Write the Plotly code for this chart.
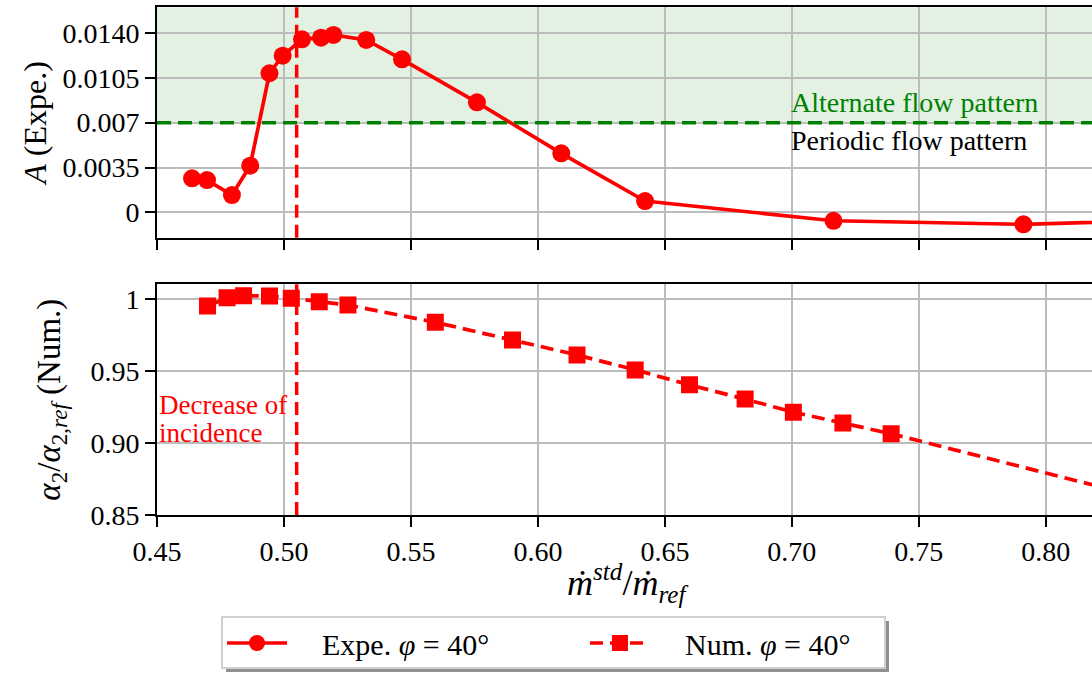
import plotly.graph_objects as go

# ---------------- data ----------------
expe_x = [0.4638, 0.4697, 0.4795, 0.4867, 0.4943, 0.4995, 0.5071, 0.5146, 0.5195,
          0.5324, 0.5465, 0.5760, 0.6092, 0.6422, 0.7164, 0.7912, 0.8700]
expe_A = [0.00266, 0.00252, 0.00135, 0.00364, 0.01086, 0.01223, 0.01351, 0.01364, 0.01385,
          0.01346, 0.01195, 0.00859, 0.00461, 0.00088, -0.00066, -0.00094, -0.00048]

num_x = [0.4699, 0.4776, 0.4841, 0.4943, 0.5029, 0.5139, 0.5252, 0.5596, 0.5900,
         0.6154, 0.6383, 0.6597, 0.6816, 0.7006, 0.7201, 0.7391, 0.8400]
num_alpha = [0.9953, 1.0011, 1.0025, 1.0023, 1.0007, 0.9983, 0.9960, 0.9840, 0.9717,
             0.9613, 0.9509, 0.9405, 0.9306, 0.9215, 0.9139, 0.9065, 0.8613]

threshold_A = 0.007
incidence_x = 0.505

x_ticks = [0.45, 0.50, 0.55, 0.60, 0.65, 0.70, 0.75, 0.80]
x_ticklabels = ["0.45", "0.50", "0.55", "0.60", "0.65", "0.70", "0.75", "0.80"]
A_ticks = [0, 0.0035, 0.007, 0.0105, 0.0140]
A_ticklabels = ["0", "0.0035", "0.007", "0.0105", "0.0140"]
alpha_ticks = [0.85, 0.90, 0.95, 1.0]
alpha_ticklabels = ["0.85", "0.90", "0.95", "1"]

# ---------------- styling ----------------
FONT = "Liberation Serif"
RED = "#ff0000"
GREEN = "#008000"
GRID = "#bcbcbc"
NB = "\u00a0"

# plot area in pixels (for paper-coordinate conversions)
L, R, T, B = 157, 1092, 7, 515
PW, PH = R - L, B - T


def px_x(p):
    return (p - L) / PW


def px_y(p):
    return (B - p) / PH


fig = go.Figure()

fig.add_trace(go.Scatter(
    x=expe_x, y=expe_A, xaxis="x", yaxis="y",
    mode="lines+markers", name=NB * 4 + "Expe. <i>φ</i> = 40°", legend="legend",
    line=dict(color=RED, width=3.7),
    marker=dict(symbol="circle", size=18, color=RED),
))
fig.add_trace(go.Scatter(
    x=num_x, y=num_alpha, xaxis="x2", yaxis="y2",
    mode="lines+markers", name=NB * 4 + "Num. <i>φ</i> = 40°", legend="legend2",
    line=dict(color=RED, width=3.7, dash="13px,7px"),
    marker=dict(symbol="square", size=17, color=RED),
))

axis_common = dict(
    showgrid=True, gridcolor=GRID, gridwidth=1.5,
    showline=True, linecolor="black", linewidth=2,
    ticks="outside", ticklen=10, tickwidth=2, tickcolor="black",
    zeroline=False,
    tickfont=dict(family=FONT, size=28, color="black"),
)

legend_common = dict(
    orientation="h", yanchor="middle", xanchor="left",
    bgcolor="rgba(0,0,0,0)", borderwidth=0,
    font=dict(family=FONT, size=30, color="black"),
    itemwidth=60,
)

xr = [0.45, 0.8182]
fig.update_layout(
    width=1092, height=678,
    margin=dict(l=L, r=1092 - R, t=T, b=678 - B),
    plot_bgcolor="white", paper_bgcolor="white",
    font=dict(family=FONT, color="black"),
    showlegend=True,
    xaxis=dict(axis_common, domain=[0, 1], range=xr, anchor="y",
               tickvals=x_ticks, ticktext=x_ticklabels, showticklabels=False,
               mirror=True, matches="x2"),
    yaxis=dict(axis_common, domain=[0.5459, 0.9994], range=[-0.00198, 0.01601], anchor="x",
               tickvals=A_ticks, ticktext=A_ticklabels,
               title=dict(text="<i>A</i> (Expe.)", font=dict(family=FONT, size=32), standoff=6)),
    xaxis2=dict(axis_common, domain=[0, 1], range=xr, anchor="y2",
                tickvals=x_ticks, ticktext=x_ticklabels, mirror=True),
    yaxis2=dict(axis_common, domain=[0, 0.4541], range=[0.85, 1.0104], anchor="x2",
                tickvals=alpha_ticks, ticktext=alpha_ticklabels,
                title=dict(text="<i>α</i><sub>2</sub>/<i>α</i><sub>2,<i>ref</i></sub> (Num.)",
                           font=dict(family=FONT, size=33), standoff=20)),
    legend=dict(legend_common, x=px_x(222), y=px_y(643)),
    legend2=dict(legend_common, x=px_x(585), y=px_y(643)),
)

# x-axis title
fig.add_annotation(x=px_x(627), y=px_y(583), xref="paper", yref="paper",
                   text="<i>ṁ<sup>std</sup></i>/<i>ṁ<sub>ref</sub></i>",
                   showarrow=False, xanchor="center", yanchor="middle",
                   font=dict(family=FONT, size=36, color="black"))

# shaded alternate-flow region
fig.add_shape(type="rect", xref="x domain", yref="y", x0=0, x1=1,
              y0=threshold_A, y1=0.01601, fillcolor="rgba(0,128,0,0.11)",
              line=dict(width=0), layer="below")
# threshold line
fig.add_shape(type="line", xref="x domain", yref="y", x0=0, x1=1,
              y0=threshold_A, y1=threshold_A,
              line=dict(color=GREEN, width=3.5, dash="14px,7px"))
# incidence vertical lines
for xa, ya in (("x", "y"), ("x2", "y2")):
    fig.add_shape(type="line", xref=xa, yref=ya + " domain", x0=incidence_x, x1=incidence_x,
                  y0=0, y1=1, line=dict(color=RED, width=3.5, dash="13px,7px"))

# legend frame with shadow
fig.add_shape(type="rect", xref="paper", yref="paper",
              x0=px_x(226), x1=px_x(889), y0=px_y(672), y1=px_y(621),
              fillcolor="#8f8f8f", line=dict(width=0), layer="above")
fig.add_shape(type="rect", xref="paper", yref="paper",
              x0=px_x(222), x1=px_x(885), y0=px_y(668), y1=px_y(617),
              fillcolor="white", line=dict(color="#cfcfcf", width=2), layer="above")

fig.add_annotation(x=0.70, y=threshold_A, xref="x", yref="y", text="Alternate flow pattern",
                   showarrow=False, xanchor="left", yanchor="bottom", yshift=3, xshift=-3,
                   font=dict(family=FONT, size=28, color=GREEN))
fig.add_annotation(x=0.70, y=threshold_A, xref="x", yref="y", text="Periodic flow pattern",
                   showarrow=False, xanchor="left", yanchor="top", yshift=0, xshift=-3,
                   font=dict(family=FONT, size=28, color="black"))
fig.add_annotation(x=0.4513, y=0.9265, xref="x2", yref="y2", text="Decrease of",
                   showarrow=False, xanchor="left", yanchor="middle", align="left", xshift=-3,
                   font=dict(family=FONT, size=27, color=RED))
fig.add_annotation(x=0.4513, y=0.9071, xref="x2", yref="y2", text="incidence",
                   showarrow=False, xanchor="left", yanchor="middle", align="left", xshift=-3,
                   font=dict(family=FONT, size=27, color=RED))

fig.write_html("out.html")
